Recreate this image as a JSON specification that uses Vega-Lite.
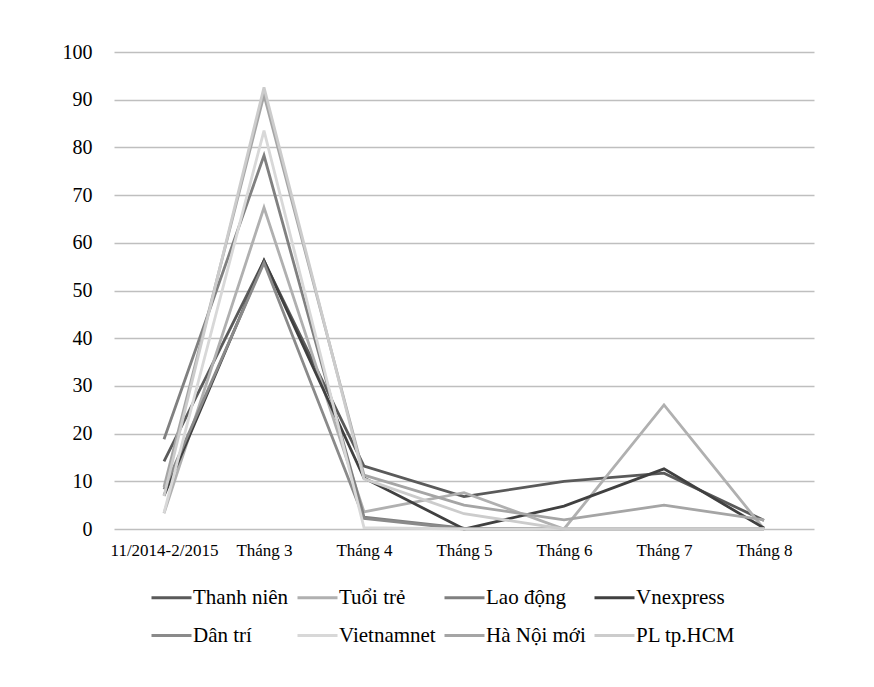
{
  "$schema": "https://vega.github.io/schema/vega-lite/v6.json",
  "autosize": "none",
  "width": 700,
  "height": 477,
  "padding": {"left": 114, "top": 52, "right": 60, "bottom": 158},
  "background": "white",
  "config": {
    "font": "Liberation Serif",
    "view": {"stroke": null}
  },
  "data": {
    "values": [
      {"site": "Thanh niên", "month": "11/2014-2/2015", "value": 14.2},
      {"site": "Thanh niên", "month": "Tháng 3", "value": 56.2},
      {"site": "Thanh niên", "month": "Tháng 4", "value": 13.2},
      {"site": "Thanh niên", "month": "Tháng 5", "value": 6.8},
      {"site": "Thanh niên", "month": "Tháng 6", "value": 10},
      {"site": "Thanh niên", "month": "Tháng 7", "value": 11.7},
      {"site": "Thanh niên", "month": "Tháng 8", "value": 1.8},
      {"site": "Tuổi trẻ", "month": "11/2014-2/2015", "value": 3.3},
      {"site": "Tuổi trẻ", "month": "Tháng 3", "value": 67.4},
      {"site": "Tuổi trẻ", "month": "Tháng 4", "value": 3.6},
      {"site": "Tuổi trẻ", "month": "Tháng 5", "value": 7.6},
      {"site": "Tuổi trẻ", "month": "Tháng 6", "value": 0},
      {"site": "Tuổi trẻ", "month": "Tháng 7", "value": 26},
      {"site": "Tuổi trẻ", "month": "Tháng 8", "value": 0},
      {"site": "Lao động", "month": "11/2014-2/2015", "value": 18.8},
      {"site": "Lao động", "month": "Tháng 3", "value": 78.3},
      {"site": "Lao động", "month": "Tháng 4", "value": 2.5},
      {"site": "Lao động", "month": "Tháng 5", "value": 0.2},
      {"site": "Lao động", "month": "Tháng 6", "value": 0},
      {"site": "Lao động", "month": "Tháng 7", "value": 0},
      {"site": "Lao động", "month": "Tháng 8", "value": 0},
      {"site": "Vnexpress", "month": "11/2014-2/2015", "value": 7},
      {"site": "Vnexpress", "month": "Tháng 3", "value": 56.3},
      {"site": "Vnexpress", "month": "Tháng 4", "value": 10.7},
      {"site": "Vnexpress", "month": "Tháng 5", "value": 0},
      {"site": "Vnexpress", "month": "Tháng 6", "value": 4.8},
      {"site": "Vnexpress", "month": "Tháng 7", "value": 12.6},
      {"site": "Vnexpress", "month": "Tháng 8", "value": 0.2},
      {"site": "Dân trí", "month": "11/2014-2/2015", "value": 8.3},
      {"site": "Dân trí", "month": "Tháng 3", "value": 55.8},
      {"site": "Dân trí", "month": "Tháng 4", "value": 2.2},
      {"site": "Dân trí", "month": "Tháng 5", "value": 0},
      {"site": "Dân trí", "month": "Tháng 6", "value": 0},
      {"site": "Dân trí", "month": "Tháng 7", "value": 0},
      {"site": "Dân trí", "month": "Tháng 8", "value": 0},
      {"site": "Vietnamnet", "month": "11/2014-2/2015", "value": 3.4},
      {"site": "Vietnamnet", "month": "Tháng 3", "value": 83.5},
      {"site": "Vietnamnet", "month": "Tháng 4", "value": 0.3},
      {"site": "Vietnamnet", "month": "Tháng 5", "value": 0},
      {"site": "Vietnamnet", "month": "Tháng 6", "value": 0},
      {"site": "Vietnamnet", "month": "Tháng 7", "value": 0},
      {"site": "Vietnamnet", "month": "Tháng 8", "value": 0},
      {"site": "Hà Nội mới", "month": "11/2014-2/2015", "value": 8.8},
      {"site": "Hà Nội mới", "month": "Tháng 3", "value": 91},
      {"site": "Hà Nội mới", "month": "Tháng 4", "value": 11.3},
      {"site": "Hà Nội mới", "month": "Tháng 5", "value": 5},
      {"site": "Hà Nội mới", "month": "Tháng 6", "value": 1.9},
      {"site": "Hà Nội mới", "month": "Tháng 7", "value": 5},
      {"site": "Hà Nội mới", "month": "Tháng 8", "value": 1.9},
      {"site": "PL tp.HCM", "month": "11/2014-2/2015", "value": 6.9},
      {"site": "PL tp.HCM", "month": "Tháng 3", "value": 92.6},
      {"site": "PL tp.HCM", "month": "Tháng 4", "value": 10.5},
      {"site": "PL tp.HCM", "month": "Tháng 5", "value": 3.2},
      {"site": "PL tp.HCM", "month": "Tháng 6", "value": 0},
      {"site": "PL tp.HCM", "month": "Tháng 7", "value": 0},
      {"site": "PL tp.HCM", "month": "Tháng 8", "value": 0}
    ]
  },
  "mark": {"type": "line", "strokeWidth": 2.8},
  "encoding": {
    "x": {
      "field": "month",
      "type": "ordinal",
      "sort": ["11/2014-2/2015", "Tháng 3", "Tháng 4", "Tháng 5", "Tháng 6", "Tháng 7", "Tháng 8"],
      "scale": {"type": "point", "padding": 0.5},
      "axis": {
        "title": null,
        "labelAngle": 0,
        "ticks": false,
        "domain": false,
        "labelFontSize": 17,
        "labelColor": "#000000",
        "labelPadding": 13,
        "labelFont": "Liberation Serif",
        "labelFontWeight": "normal"
      }
    },
    "y": {
      "field": "value",
      "type": "quantitative",
      "scale": {"domain": [0, 100], "nice": false},
      "axis": {
        "title": null,
        "values": [0, 10, 20, 30, 40, 50, 60, 70, 80, 90, 100],
        "ticks": false,
        "domain": false,
        "labelFontSize": 20,
        "labelColor": "#000000",
        "labelPadding": 22,
        "labelFont": "Liberation Serif",
        "labelFontWeight": "normal",
        "gridColor": "#bfbfbf",
        "gridWidth": 1.5
      }
    },
    "color": {
      "field": "site",
      "type": "nominal",
      "sort": ["Thanh niên", "Tuổi trẻ", "Lao động", "Vnexpress", "Dân trí", "Vietnamnet", "Hà Nội mới", "PL tp.HCM"],
      "scale": {
        "domain": ["Thanh niên", "Tuổi trẻ", "Lao động", "Vnexpress", "Dân trí", "Vietnamnet", "Hà Nội mới", "PL tp.HCM"],
        "range": ["#5a5a5a", "#b0b0b0", "#808080", "#404040", "#8a8a8a", "#d8d8d8", "#a5a5a5", "#cccccc"]
      },
      "legend": {
        "title": null,
        "orient": "none",
        "legendX": 36,
        "legendY": 524,
        "direction": "horizontal",
        "columns": 4,
        "symbolType": "stroke",
        "symbolSize": 1600,
        "symbolStrokeWidth": 3,
        "labelFontSize": 21,
        "labelFont": "Liberation Serif",
        "labelFontWeight": "normal",
        "labelColor": "#000000",
        "labelOffset": 0,
        "columnPadding": 2,
        "rowPadding": 6,
        "labelLimit": 300
      }
    }
  }
}
